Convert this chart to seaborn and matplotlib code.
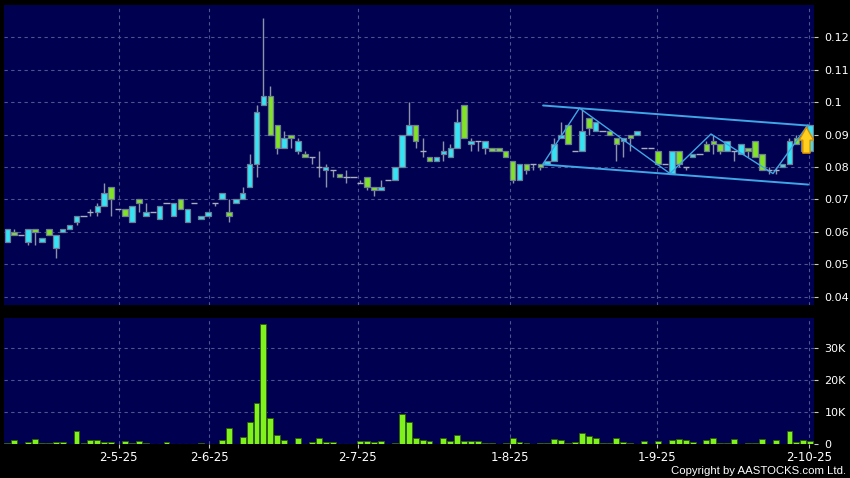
import matplotlib
matplotlib.use("Agg")
import matplotlib.pyplot as plt
import numpy as np
import pandas as pd
import seaborn as sns
from matplotlib.patches import FancyArrow

# ---------------- data ----------------
opens = [.057, .060, .059, .057, .061, .057, .061, .055, .060, .061,
         .063, .065, .066, .066, .068, .074, .067, .067, .063, .070,
         .065, .066, .064, .069, .065, .070, .063, .069, .064, .065,
         .069, .070, .066, .069, .070, .074, .081, .099, .102, .093,
         .086, .090, .085, .084, .083, .080, .079, .079, .078, .077,
         .077, .075, .077, .074, .073, .076, .076, .080, .090, .093,
         .085, .083, .082, .084, .083, .086, .099, .087, .088, .086,
         .086, .086, .085, .082, .076, .081, .081, .081, .081, .082,
         .089, .093, .085, .085, .095, .091, .091, .091, .089, .088,
         .090, .090, .086, .086, .085, .081, .078, .085, .080, .083,
         .084, .087, .088, .087, .085, .085, .084, .086, .088, .084,
         .079, .079, .080, .081, .089, .089, .085]
highs = [.061, .061, .059, .061, .061, .058, .061, .059, .061, .062,
         .065, .065, .067, .069, .075, .074, .067, .067, .068, .070,
         .069, .066, .068, .069, .069, .070, .067, .069, .065, .066,
         .069, .072, .070, .070, .074, .084, .099, .126, .105, .093,
         .091, .090, .089, .085, .083, .085, .081, .079, .078, .079,
         .077, .076, .077, .074, .076, .076, .080, .090, .100, .093,
         .089, .083, .083, .088, .087, .098, .099, .089, .088, .088,
         .086, .086, .085, .082, .081, .081, .081, .081, .082, .089,
         .094, .093, .085, .098, .095, .094, .091, .091, .089, .089,
         .090, .091, .086, .086, .085, .081, .085, .085, .080, .084,
         .084, .088, .090, .087, .088, .085, .087, .086, .088, .084,
         .080, .080, .081, .089, .090, .089, .093]
lows = [.057, .059, .059, .056, .056, .057, .059, .052, .060, .061,
        .062, .065, .065, .065, .068, .065, .067, .065, .063, .066,
        .065, .066, .064, .069, .065, .067, .063, .069, .064, .065,
        .068, .070, .063, .069, .070, .074, .077, .099, .090, .084,
        .086, .086, .084, .083, .081, .077, .074, .077, .077, .075,
        .077, .075, .073, .071, .073, .076, .076, .080, .090, .086,
        .083, .082, .082, .082, .083, .086, .089, .085, .085, .084,
        .085, .085, .083, .075, .076, .078, .079, .079, .081, .082,
        .089, .087, .085, .085, .090, .091, .091, .090, .082, .083,
        .085, .090, .086, .086, .081, .081, .078, .080, .079, .083,
        .084, .085, .084, .084, .085, .082, .084, .083, .083, .079,
        .078, .078, .080, .081, .087, .085, .085]
closes = [.061, .059, .059, .061, .060, .058, .059, .059, .061, .062,
          .065, .065, .066, .068, .072, .070, .067, .065, .068, .069,
          .066, .066, .068, .069, .069, .067, .067, .069, .065, .066,
          .069, .072, .065, .070, .072, .081, .097, .102, .090, .086,
          .089, .089, .088, .083, .083, .080, .080, .079, .077, .077,
          .077, .075, .074, .073, .074, .076, .080, .090, .093, .088,
          .085, .082, .083, .085, .086, .094, .089, .088, .088, .088,
          .085, .085, .083, .076, .081, .079, .081, .080, .082, .087,
          .090, .087, .085, .091, .092, .094, .091, .090, .087, .089,
          .089, .091, .086, .086, .081, .081, .085, .081, .080, .084,
          .084, .085, .087, .085, .088, .085, .087, .085, .083, .079,
          .079, .079, .081, .088, .087, .085, .093]
volumes = [200, 1300, 0, 500, 1600, 300, 300, 700, 500, 0,
           4200, 300, 1300, 1300, 700, 700, 100, 1000, 300, 1000,
           300, 0, 100, 700, 100, 100, 100, 0, 300, 0,
           100, 1200, 5000, 0, 2300, 7000, 12800, 37300, 8000, 2800,
           1400, 0, 2000, 0, 700, 2000, 500, 700, 100, 100,
           0, 900, 900, 700, 800, 0, 300, 9400, 7000, 1900,
           1100, 1000, 100, 2000, 1000, 2700, 1000, 800, 1000, 300,
           300, 0, 200, 1900, 600, 200, 0, 200, 200, 1700,
           1200, 400, 500, 3400, 2600, 2000, 300, 300, 1900, 500,
           300, 0, 800, 0, 1000, 0, 1100, 1600, 1100, 700,
           0, 1100, 2000, 300, 300, 1700, 100, 200, 200, 1600,
           0, 1400, 0, 4200, 600, 1100, 1000]

date_ticks = [16.1, 29.2, 50.6, 72.6, 93.8, 115.8]
date_labels = ["2-5-25", "2-6-25", "2-7-25", "1-8-25", "1-9-25", "2-10-25"]
price_ticks = [0.04, 0.05, 0.06, 0.07, 0.08, 0.09, 0.10, 0.11, 0.12]
price_labels = ["0.04", "0.05", "0.06", "0.07", "0.08", "0.09", "0.1", "0.11", "0.12"]
volume_ticks = [0, 10000, 20000, 30000]
volume_labels = ["0", "10K", "20K", "30K"]

# drawn trend lines (index, price)
channel_upper_x = [77.4, 115.7]
channel_upper_y = [0.0990, 0.0928]
channel_lower_x = [77.4, 115.7]
channel_lower_y = [0.0808, 0.0746]
zigzag_x = [77.4, 82.66, 95.74, 101.66, 110.62, 115.67]
zigzag_y = [0.0810, 0.0982, 0.0780, 0.0902, 0.0780, 0.0930]
arrow_x, arrow_base, arrow_top = 115.45, 0.0843, 0.0923

# ---------------- styling ----------------
BG = "#000050"
UP = "#35e4f4"
DOWN = "#80e424"
VOL = "#7ff21e"
GRID = "#4d5590"
EDGE = "#6e7c98"
WICK = "#8b93a8"
LINE = "#3fa6e6"

sns.set_theme(style="dark", rc={
    "figure.facecolor": "black",
    "axes.facecolor": BG,
    "savefig.facecolor": "black",
})
plt.rcParams["font.family"] = ["DejaVu Sans"]

df = pd.DataFrame({"idx": np.arange(len(opens)), "open": opens, "high": highs,
                   "low": lows, "close": closes, "volume": volumes})

fig = plt.figure(figsize=(8.5, 4.78), dpi=100)
ax = fig.add_axes([4 / 850, 1 - 305 / 478, (813.5 - 4) / 850, 300 / 478])
axv = fig.add_axes([4 / 850, 1 - 444 / 478, (813.5 - 4) / 850, 126 / 478])

# ---- candles ----
doji = df[df["open"] == df["close"]]
body = df[df["open"] != df["close"]]
ax.vlines(df["idx"], df["low"], df["high"], color=WICK, linewidth=1.0, zorder=2)
cols = [UP if c > o else DOWN for o, c in zip(body["open"], body["close"])]
ax.bar(body["idx"], (body["close"] - body["open"]).abs(),
       bottom=np.minimum(body["open"], body["close"]), width=0.8,
       color=cols, edgecolor=EDGE, linewidth=0.9, zorder=3)
ax.hlines(doji["close"], doji["idx"] - 0.45, doji["idx"] + 0.45,
          color="#a8b0c0", linewidth=1.0, zorder=3)

# ---- trend lines ----
ax.plot(channel_upper_x, channel_upper_y, color=LINE, linewidth=1.4, zorder=4)
ax.plot(channel_lower_x, channel_lower_y, color=LINE, linewidth=1.4, zorder=4)
ax.plot(zigzag_x, zigzag_y, color=LINE, linewidth=1.0, zorder=4)
ax.add_patch(FancyArrow(arrow_x, arrow_base, 0, arrow_top - arrow_base,
                        width=1.05, head_width=2.1, head_length=0.0040,
                        length_includes_head=True, facecolor="#ffcf1f",
                        edgecolor="#d98e00", linewidth=1.0, zorder=6))

# ---- volume via seaborn ----
sns.barplot(data=df, x="idx", y="volume", native_scale=True, color=VOL,
            saturation=1, errorbar=None, width=0.85, edgecolor="#2e5a08",
            linewidth=0.6, ax=axv, zorder=3)

xlim = (-0.48, 116.47)
for a in (ax, axv):
    a.set_xlim(*xlim)
    a.set_xticks(date_ticks)
    a.grid(True, color=GRID, linestyle=(0, (3, 3)), linewidth=0.8)
    a.set_axisbelow(True)
    for s in a.spines.values():
        s.set_visible(False)
    a.yaxis.tick_right()
    a.tick_params(axis="y", which="both", direction="out", length=3, pad=5,
                  colors="#c8c8c8", labelcolor="white", labelsize=8, width=0.8,
                  right=True, left=False)
    a.set_xlabel("")
    a.set_ylabel("")

ax.set_ylim(0.03744, 0.1300)
ax.set_yticks(price_ticks)
ax.set_yticklabels(price_labels)
ax.tick_params(axis="x", bottom=False, labelbottom=False)

axv.set_ylim(0, 39300)
axv.set_yticks(volume_ticks)
axv.set_yticklabels(volume_labels)
axv.set_xticklabels(date_labels)
axv.tick_params(axis="x", direction="out", length=3, pad=2, colors="#c8c8c8",
                labelcolor="white", labelsize=8.5, width=0.8, bottom=True)

fig.text(846 / 850, 1 - 471 / 478, "Copyright by AASTOCKS.com Ltd.", color="white",
         fontsize=8.2, family=["Liberation Sans", "DejaVu Sans"],
         ha="right", va="center")

fig.savefig("out.png", dpi=100, facecolor="black")
